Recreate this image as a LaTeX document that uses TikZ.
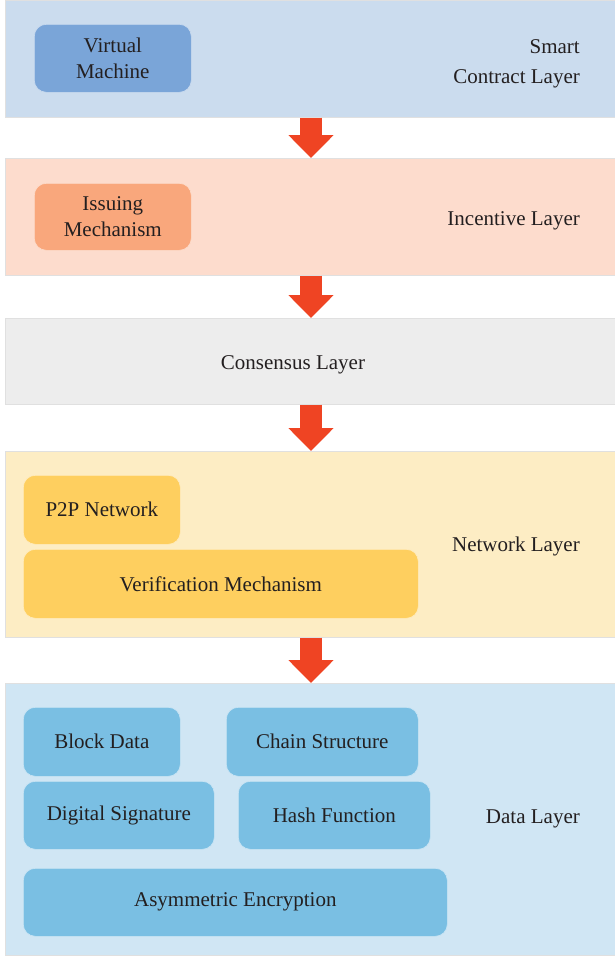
\documentclass[tikz,border=0pt]{standalone}
\usepackage{fontspec}
\setmainfont{Liberation Serif}
\usetikzlibrary{arrows.meta}
\definecolor{txt}{HTML}{231F20}
\definecolor{scband}{HTML}{CBDCEE}
\definecolor{scbox}{HTML}{7AA5D8}
\definecolor{inband}{HTML}{FDDCCD}
\definecolor{inbox}{HTML}{F9A77C}
\definecolor{coband}{HTML}{EDEDED}
\definecolor{nwband}{HTML}{FDEDC4}
\definecolor{nwbox}{HTML}{FECF5F}
\definecolor{daband}{HTML}{D0E6F4}
\definecolor{dabox}{HTML}{7ABFE3}
\definecolor{arrowc}{HTML}{EF4423}
\begin{document}
\begin{tikzpicture}[x=1pt,y=-1pt,
  every node/.style={font=\fontsize{21}{26}\selectfont, text=txt, inner sep=0pt},
  band/.style={draw=black!12, line width=0.6pt, rectangle, anchor=north west},
  item/.style={draw=white!60!#1, line width=0.6pt, fill=#1, rounded corners=12pt, anchor=north west, align=center},
  lbl/.style={align=right, anchor=east, yshift=-2.5pt},
  flow/.style={arrowc, line width=22pt, -{Triangle[width=44pt,length=23pt]}}]
\useasboundingbox (0,0) rectangle (614,956);
% bands
\node[band, fill=scband, minimum width=612pt, minimum height=117pt] (sc) at (4.5,0) {};
\node[band, fill=inband, minimum width=612pt, minimum height=117pt] (in) at (4.5,158) {};
\node[band, fill=coband, minimum width=612pt, minimum height=86pt] (co) at (4.5,318) {};
\node[band, fill=nwband, minimum width=612pt, minimum height=186pt] (nw) at (4.5,451) {};
\node[band, fill=daband, minimum width=612pt, minimum height=272pt] (da) at (4.5,683) {};
% smart contract layer
\node[item=scbox, minimum width=157pt, minimum height=68pt] (vm) at (34,24) {Virtual\\Machine};
\node[lbl, font=\fontsize{21}{30}\selectfont] (sclbl) at (580,61) {Smart\\Contract Layer};
% incentive layer
\node[item=inbox, minimum width=157pt, minimum height=67pt] (im) at (34,183) {Issuing\\Mechanism};
\node[lbl] (inlbl) at (580,218) {Incentive Layer};
% consensus layer
\node[yshift=-2.5pt] (colbl) at (293,362) {Consensus Layer};
% network layer
\node[item=nwbox, minimum width=157pt, minimum height=69pt] (p2p) at (23,475) {P2P Network};
\node[item=nwbox, minimum width=395pt, minimum height=69pt] (vf) at (23,549) {Verification Mechanism};
\node[lbl] (nwlbl) at (580,544) {Network Layer};
% data layer
\node[item=dabox, minimum width=157pt, minimum height=69pt] (bd) at (23,707) {Block Data};
\node[item=dabox, minimum width=192pt, minimum height=69pt] (cs) at (226,707) {Chain Structure};
\node[item=dabox, minimum width=191pt, minimum height=68pt] (ds) at (23,781) {Digital Signature};
\node[item=dabox, minimum width=192pt, minimum height=68pt] (hf) at (238,781) {Hash Function};
\node[item=dabox, minimum width=424pt, minimum height=68pt] (ae) at (23,868) {Asymmetric Encryption};
\node[lbl] (dalbl) at (580,816) {Data Layer};
% arrows
\coordinate (ax) at (311,0);
\draw[flow] (sc.south -| ax) -- (in.north -| ax);
\draw[flow] (in.south -| ax) -- (co.north -| ax);
\draw[flow] (co.south -| ax) -- (nw.north -| ax);
\draw[flow] (nw.south -| ax) -- (da.north -| ax);
\end{tikzpicture}
\end{document}
